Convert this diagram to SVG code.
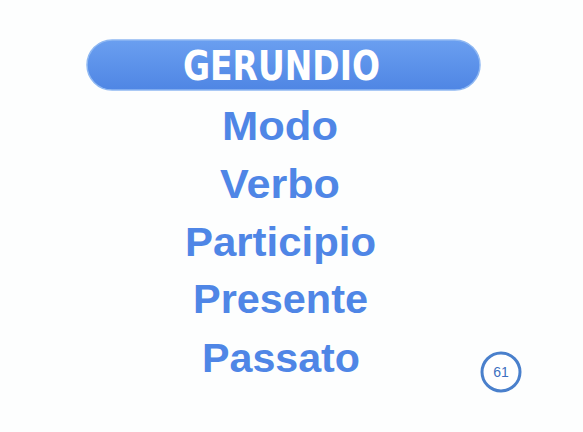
<svg xmlns="http://www.w3.org/2000/svg" width="583" height="432" viewBox="0 0 583 432">
<defs>
<style>
.w{font-family:"Liberation Sans",Arial,sans-serif;font-weight:bold;font-size:41px;fill:#4f86e6;text-anchor:middle}
</style>
<linearGradient id="g" x1="0" y1="0" x2="0" y2="1">
<stop offset="0" stop-color="#6a9ff0"/>
<stop offset="1" stop-color="#4f86e4"/>
</linearGradient>
</defs>
<rect width="583" height="432" fill="#fdfefe"/>
<g id="title">
<rect x="87" y="40" width="393" height="50" rx="25" fill="url(#g)" stroke="#8fb8f2" stroke-width="1.5"/>
<text x="281.5" y="80" font-family="'DejaVu Sans Condensed','DejaVu Sans',sans-serif" font-weight="bold" font-size="40" fill="#ffffff" text-anchor="middle" textLength="197" lengthAdjust="spacingAndGlyphs">GERUNDIO</text>
</g>
<g id="modo"><text class="w" x="280" y="140" textLength="116" lengthAdjust="spacingAndGlyphs">Modo</text></g>
<g id="verbo"><text class="w" x="280" y="198" textLength="120" lengthAdjust="spacingAndGlyphs">Verbo</text></g>
<g id="participio"><text class="w" x="280.5" y="256" textLength="191" lengthAdjust="spacingAndGlyphs">Participio</text></g>
<g id="presente"><text class="w" x="280.5" y="313" textLength="175" lengthAdjust="spacingAndGlyphs">Presente</text></g>
<g id="passato"><text class="w" x="281" y="372" textLength="158" lengthAdjust="spacingAndGlyphs">Passato</text></g>
<g id="page">
<circle cx="501" cy="372" r="19" fill="#ffffff" stroke="#4a80cc" stroke-width="3"/>
<text x="501" y="377" font-family="'Liberation Sans',Arial,sans-serif" font-size="14" fill="#3d6fc0" text-anchor="middle">61</text>
</g>
<g id="connectors"/>
</svg>
